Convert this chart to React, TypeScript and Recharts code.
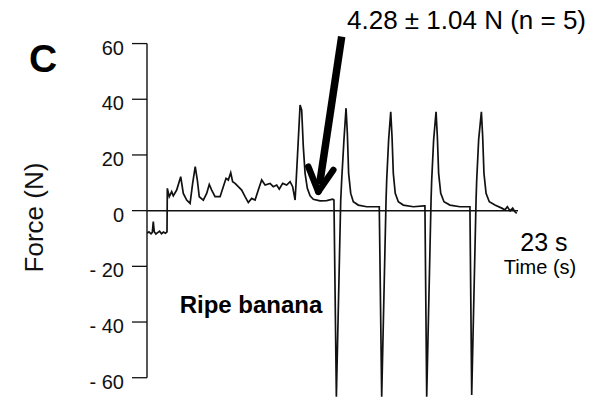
import React from 'react';
import { LineChart, Line, XAxis, YAxis, ReferenceLine } from 'recharts';

// Force trace of a ripe banana (time in s, force in N)
const timeSec = [
  0.0, 0.12, 0.25, 0.33, 0.39, 0.45, 0.55, 0.66, 0.78, 0.9, 1.02, 1.14, 1.24,
  1.26, 1.38, 1.53, 1.63, 1.84, 2.09, 2.25, 2.46, 2.67, 2.83, 2.99, 3.12, 3.24,
  3.49, 3.7, 3.86, 4.01, 4.22, 4.53, 4.73, 4.9, 5.04, 5.19, 5.31, 5.46, 5.66,
  5.87, 6.08, 6.28, 6.49, 6.7, 6.9, 7.11, 7.32, 7.63, 7.83, 8.04, 8.2, 8.41,
  8.66, 8.87, 9.03, 9.18, 9.24, 9.38, 9.49, 9.59, 9.69, 9.8, 9.94, 10.11, 10.31,
  10.73, 11.14, 11.51, 11.59,
  11.74, 12.01, 12.07, 12.21, 12.34, 12.42, 12.5, 12.63, 12.79, 13.1, 13.62, 14.34, 14.4,
  14.55, 14.82, 14.86, 14.98, 15.11, 15.19, 15.27, 15.39, 15.58, 15.89, 16.51, 17.17, 17.23,
  17.34, 17.61, 17.65, 17.77, 17.92, 18.0, 18.08, 18.21, 18.41, 18.78, 19.4, 19.96, 20.02,
  20.13, 20.4, 20.44, 20.56, 20.73, 20.81, 20.89, 21.02, 21.22, 21.57, 21.99, 22.19, 22.34,
  22.51, 22.67, 22.81, 22.92,
];
const forceN = [
  -8.1, -7.6, -8.3, -7.8, -3.9, -7.6, -8.4, -7.9, -7.4, -8.3, -7.7, -8.1, -7.6,
  8.0, 5.0, 6.8, 5.3, 7.4, 12.2, 6.2, 3.8, 2.6, 9.8, 15.8, 11.0, 5.0,
  3.8, 6.2, 9.4, 7.4, 5.0, 5.0, 8.6, 11.6, 11.0, 13.6, 10.4, 9.8, 8.6,
  7.4, 5.0, 2.9, 4.4, 3.8, 7.4, 11.0, 9.2, 9.8, 8.6, 9.2, 7.7, 9.8,
  9.2, 10.4, 8.6, 3.8, 9.8, 25.4, 37.9, 36.1, 23.0, 13.4, 8.0, 5.3, 4.1,
  3.5, 3.6, 4.1, 3.8,
  -66.8, 3.8, 11.0, 25.4, 36.8, 27.8, 13.4, 6.2, 3.2, 2.0, 1.4, 1.4, 1.4,
  -66.8, 3.8, 11.0, 25.4, 35.5, 26.6, 13.4, 6.2, 3.2, 2.0, 1.4, 1.7, 1.7,
  -66.8, 3.8, 11.0, 25.4, 35.5, 26.6, 13.4, 6.2, 3.2, 2.0, 1.4, 1.4, 1.4,
  -66.2, 3.8, 11.0, 25.4, 35.5, 26.6, 13.4, 6.2, 3.2, 2.0, 0.9, 0.3, 1.4,
  -0.1, 0.9, -0.4, -1.0,
];

const yTicks = [60, 40, 20, 0, -20, -40, -60];
const yDomain = [-68, 62];
const xDomain = [0, 23];

// Arrow annotation in data coordinates (time s, force N)
const arrowShaft = [{ x: 12.07, y: 62.5 }, { x: 10.7, y: 9.5 }];
const arrowLeftArm = [{ x: 10.0, y: 15.8 }, { x: 10.62, y: 6.8 }];
const arrowRightArm = [{ x: 11.55, y: 14.6 }, { x: 10.62, y: 6.8 }];

const annotationText = '4.28 ± 1.04 N (n = 5)';
const sampleLabel = 'Ripe banana';
const panelLetter = 'C';
const yAxisTitle = 'Force (N)';
const durationLabel = '23 s';
const xAxisTitle = 'Time (s)';

const data = timeSec.map((t, i) => ({ t, f: forceN[i] }));

const FONT = '"Liberation Sans", Arial, Helvetica, sans-serif';

const fmt = (v: number) => (v < 0 ? `- ${Math.abs(v)}` : `${v}`);

const YTick = (props: any) => {
  const { x, y, payload } = props;
  return (
    <text x={x} y={y + 11} textAnchor="end" fontSize={20} fontFamily={FONT} fill="#111">
      {fmt(payload.value)}
    </text>
  );
};

export default function App() {
  return (
    <div style={{ position: 'absolute', left: 0, top: 0, width: 608, height: 401, background: '#fff' }}>
      <LineChart
        width={608}
        height={401}
        data={data}
        margin={{ top: 38, right: 90, bottom: 1, left: 87 }}
      >
        <XAxis dataKey="t" type="number" domain={xDomain} hide allowDataOverflow />
        <YAxis
          type="number"
          domain={yDomain}
          ticks={yTicks}
          allowDataOverflow
          width={60}
          axisLine={false}
          tickLine={{ stroke: '#111', strokeWidth: 1.3 }}
          tickSize={15}
          tickMargin={8}
          tick={<YTick />}
          interval={0}
        />
        <ReferenceLine
          segment={[{ x: 0, y: -60 }, { x: 0, y: 60 }]}
          stroke="#111"
          strokeWidth={1.4}
          ifOverflow="visible"
        />
        <ReferenceLine y={0} stroke="#111" strokeWidth={1.5} ifOverflow="visible" />
        <Line
          dataKey="f"
          type="linear"
          stroke="#111"
          strokeWidth={1.7}
          dot={false}
          isAnimationActive={false}
        />
        <ReferenceLine segment={arrowShaft} stroke="#000" strokeWidth={7.5} ifOverflow="visible" />
        <ReferenceLine segment={arrowLeftArm} stroke="#000" strokeWidth={6.5} strokeLinecap="round" ifOverflow="visible" />
        <ReferenceLine segment={arrowRightArm} stroke="#000" strokeWidth={6.5} strokeLinecap="round" ifOverflow="visible" />
        <text x={29} y={72} fontSize={39} fontWeight="bold" fontFamily={FONT} fill="#000">
          {panelLetter}
        </text>
        <text
          x={43}
          y={217.5}
          transform="rotate(-90 43 217.5)"
          textAnchor="middle"
          fontSize={26}
          fontFamily={FONT}
          fill="#111"
        >
          {yAxisTitle}
        </text>
        <text x={347} y={28.5} fontSize={26} fontFamily={FONT} fill="#000">
          {annotationText}
        </text>
        <text x={251} y={313} textAnchor="middle" fontSize={24} fontWeight="bold" fontFamily={FONT} fill="#000">
          {sampleLabel}
        </text>
        <text x={544} y={251} textAnchor="middle" fontSize={25} fontFamily={FONT} fill="#000">
          {durationLabel}
        </text>
        <text x={540} y={274} textAnchor="middle" fontSize={20} fontFamily={FONT} fill="#000">
          {xAxisTitle}
        </text>
      </LineChart>
    </div>
  );
}
